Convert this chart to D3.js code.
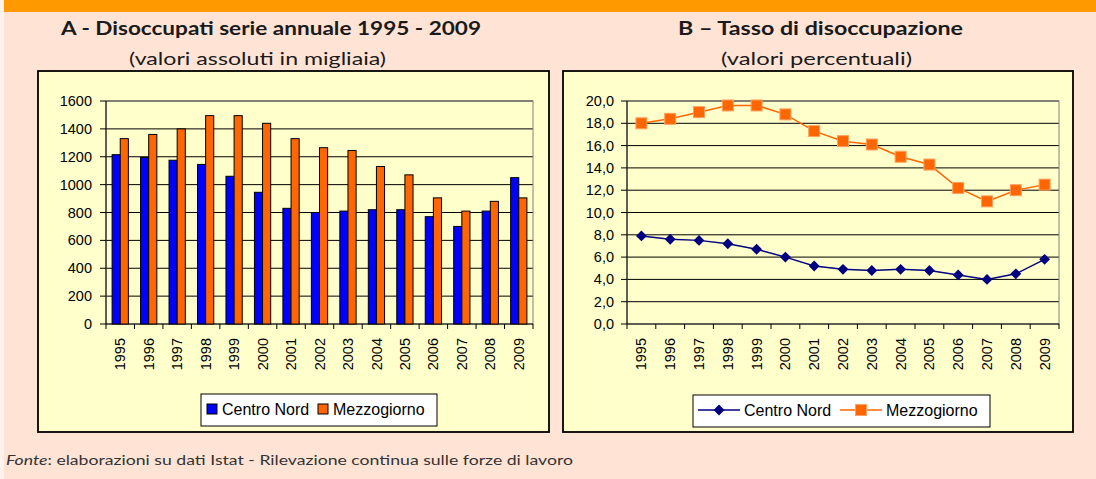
<!DOCTYPE html>
<html>
<head>
<meta charset="utf-8">
<script src="https://cdn.jsdelivr.net/npm/d3@7"></script>
<style>
  body { margin: 0; background: #FFE4D5; }
  svg { display: block; }
</style>
</head>
<body>
<svg id="chart" width="1096" height="479"></svg>
<script>
// data
var years = ["1995","1996","1997","1998","1999","2000","2001","2002","2003","2004","2005","2006","2007","2008","2009"];
var series = ["Centro Nord", "Mezzogiorno"];
// A - disoccupati, migliaia
var absCentroNord = [1215, 1195, 1175, 1145, 1060, 945, 830, 800, 810, 820, 820, 770, 700, 810, 1050];
var absMezzogiorno = [1330, 1360, 1400, 1495, 1495, 1440, 1330, 1265, 1245, 1130, 1070, 905, 810, 880, 905];
// B - tasso di disoccupazione, %
var rateCentroNord = [7.9, 7.6, 7.5, 7.2, 6.7, 6.0, 5.2, 4.9, 4.8, 4.9, 4.8, 4.4, 4.0, 4.5, 5.8];
var rateMezzogiorno = [18.0, 18.4, 19.0, 19.6, 19.6, 18.8, 17.3, 16.4, 16.1, 15.0, 14.3, 12.2, 11.0, 12.0, 12.5];
var absTicks = [0, 200, 400, 600, 800, 1000, 1200, 1400, 1600];
var rateTicks = [0, 2, 4, 6, 8, 10, 12, 14, 16, 18, 20];

var svg = d3.select("#chart");
var axisFont = "'Liberation Sans', Arial, sans-serif";
var titleFont = "Lato, 'Open Sans', sans-serif";

// orange band on top
svg.append("rect").attr("x", 0).attr("y", 0).attr("width", 4).attr("height", 479).attr("fill", "#FFF3EC");
svg.append("rect").attr("x", 4).attr("y", 0).attr("width", 1092).attr("height", 12).attr("fill", "#FF9900");

// titles
function title(txt, x, y, w, bold) {
    svg.append("text")
        .attr("x", x).attr("y", y)
        .attr("textLength", w).attr("lengthAdjust", "spacingAndGlyphs")
        .style("font-family", titleFont)
        .style("font-size", "18px")
        .style("font-weight", bold ? "bold" : "normal")
        .style("fill", "#1a1a1a")
        .text(txt);
}
title("A - Disoccupati  serie annuale 1995 - 2009", 61, 35, 420, true);
title("(valori assoluti in migliaia)", 129, 65, 257, false);
title("B \u2013 Tasso di disoccupazione", 678, 35, 285, true);
title("(valori percentuali)", 721, 65, 191, false);

// chart boxes
svg.append("rect").attr("x", 38).attr("y", 71).attr("width", 511).attr("height", 361)
    .attr("fill", "#FFFFCC").attr("stroke", "#000").attr("stroke-width", 1.8);
svg.append("rect").attr("x", 563).attr("y", 71).attr("width", 510).attr("height", 361)
    .attr("fill", "#FFFFCC").attr("stroke", "#000").attr("stroke-width", 1.8);

// footnote
var foot = svg.append("text")
    .attr("x", 6).attr("y", 465)
    .attr("textLength", 567).attr("lengthAdjust", "spacingAndGlyphs")
    .style("font-family", titleFont).style("font-size", "13.5px").style("fill", "#333");
foot.append("tspan").style("font-style", "italic").text("Fonte");
foot.append("tspan").text(": elaborazioni su dati Istat - Rilevazione continua sulle forze di lavoro");

// common axis drawing
function drawFrame(g, x, y, ticks, fmt, left, right, top, bottom, labGap) {
    // gridlines
    g.selectAll(".grid").data(ticks.filter(function(t) { return t > 0; }))
        .enter().append("line")
        .attr("x1", left).attr("x2", right)
        .attr("y1", function(d) { return y(d); }).attr("y2", function(d) { return y(d); })
        .attr("stroke", "#000").attr("stroke-width", 1);
    // plot border
    g.append("rect").attr("x", left).attr("y", top).attr("width", right - left).attr("height", bottom - top)
        .attr("fill", "none").attr("stroke", "#808080").attr("stroke-width", 1);
    // y axis
    g.append("line").attr("x1", left).attr("x2", left).attr("y1", top).attr("y2", bottom).attr("stroke", "#000");
    g.selectAll(".ytick").data(ticks).enter().append("line")
        .attr("x1", left - 6).attr("x2", left)
        .attr("y1", function(d) { return y(d); }).attr("y2", function(d) { return y(d); })
        .attr("stroke", "#000");
    g.selectAll(".ylab").data(ticks).enter().append("text")
        .attr("x", left - labGap).attr("y", function(d) { return y(d); })
        .attr("dy", "0.35em").attr("text-anchor", "end")
        .style("font-family", axisFont).style("font-size", "14.5px").style("fill", "#000")
        .text(fmt);
    // x axis
    g.append("line").attr("x1", left).attr("x2", right).attr("y1", bottom).attr("y2", bottom).attr("stroke", "#000");
    var bounds = years.map(function(d) { return x(d); }).concat([right]);
    g.selectAll(".xtick").data(bounds).enter().append("line")
        .attr("x1", function(d) { return d; }).attr("x2", function(d) { return d; })
        .attr("y1", bottom).attr("y2", bottom + 5)
        .attr("stroke", "#000");
    g.selectAll(".xlab").data(years).enter().append("text")
        .attr("transform", function(d) { return "translate(" + (x(d) + x.bandwidth() / 2) + "," + (bottom + 14) + ") rotate(-90)"; })
        .attr("dy", "0.35em").attr("text-anchor", "end")
        .style("font-family", axisFont).style("font-size", "14.5px").style("fill", "#000")
        .text(function(d) { return d; });
}

/******** CHART A - bars ********/
var gA = svg.append("g");
var xA = d3.scaleBand().domain(years).range([106, 533]);
var yA = d3.scaleLinear().domain([0, 1600]).range([324, 101]);
drawFrame(gA, xA, yA, absTicks, function(d) { return d; }, 106, 533, 101, 324, 14);

var bw = xA.bandwidth() / 3.5;
var absData = [absCentroNord, absMezzogiorno];
var barColors = ["#0000FF", "#FF6600"];
absData.forEach(function(vals, s) {
    gA.selectAll(".bar" + s).data(vals).enter().append("rect")
        .attr("x", function(d, i) { return xA(years[i]) + bw * (0.75 + s); })
        .attr("y", function(d) { return yA(d); })
        .attr("width", bw)
        .attr("height", function(d) { return yA(0) - yA(d); })
        .attr("fill", barColors[s])
        .attr("stroke", "#000").attr("stroke-width", 1);
});

// legend A
gA.append("rect").attr("x", 201).attr("y", 394).attr("width", 236).attr("height", 32)
    .attr("fill", "#fff").attr("stroke", "#000");
var legA = [{x: 207, tx: 222}, {x: 318, tx: 333}];
series.forEach(function(name, s) {
    gA.append("rect").attr("x", legA[s].x).attr("y", 404).attr("width", 10).attr("height", 10)
        .attr("fill", barColors[s]).attr("stroke", "#000");
    gA.append("text").attr("x", legA[s].tx).attr("y", 415)
        .style("font-family", axisFont).style("font-size", "16px").text(name);
});

/******** CHART B - lines ********/
var gB = svg.append("g");
var xB = d3.scaleBand().domain(years).range([627, 1059]);
var yB = d3.scaleLinear().domain([0, 20]).range([324, 101]);
drawFrame(gB, xB, yB, rateTicks, function(d) { return d3.format(".1f")(d).replace(".", ","); }, 627, 1059, 101, 324, 13);

var line = d3.line()
    .x(function(d, i) { return xB(years[i]) + xB.bandwidth() / 2; })
    .y(function(d) { return yB(d); });

gB.append("path").datum(rateMezzogiorno).attr("d", line)
    .attr("fill", "none").attr("stroke", "#FF6600").attr("stroke-width", 1.5);
gB.append("path").datum(rateCentroNord).attr("d", line)
    .attr("fill", "none").attr("stroke", "#000080").attr("stroke-width", 1.5);

var diamond = d3.symbol().type(d3.symbolDiamond2).size(75);
gB.selectAll(".diam").data(rateCentroNord).enter().append("path")
    .attr("d", diamond)
    .attr("transform", function(d, i) { return "translate(" + (xB(years[i]) + xB.bandwidth() / 2) + "," + yB(d) + ")"; })
    .attr("fill", "#000080");
gB.selectAll(".sq").data(rateMezzogiorno).enter().append("rect")
    .attr("x", function(d, i) { return xB(years[i]) + xB.bandwidth() / 2 - 5.5; })
    .attr("y", function(d) { return yB(d) - 5.5; })
    .attr("width", 11).attr("height", 11)
    .attr("fill", "#FF6600").attr("stroke", "#FFA060").attr("stroke-width", 1);

// legend B
gB.append("rect").attr("x", 693).attr("y", 395).attr("width", 297).attr("height", 32)
    .attr("fill", "#fff").attr("stroke", "#000");
gB.append("line").attr("x1", 698).attr("x2", 740).attr("y1", 410).attr("y2", 410)
    .attr("stroke", "#000080").attr("stroke-width", 1.5);
gB.append("path").attr("d", diamond).attr("transform", "translate(719,410)").attr("fill", "#000080");
gB.append("text").attr("x", 744).attr("y", 416)
    .style("font-family", axisFont).style("font-size", "16px").text(series[0]);
gB.append("line").attr("x1", 840).attr("x2", 882).attr("y1", 410).attr("y2", 410)
    .attr("stroke", "#FF6600").attr("stroke-width", 1.5);
gB.append("rect").attr("x", 855.5).attr("y", 404.5).attr("width", 11).attr("height", 11)
    .attr("fill", "#FF6600").attr("stroke", "#FFA060");
gB.append("text").attr("x", 886).attr("y", 416)
    .style("font-family", axisFont).style("font-size", "16px").text(series[1]);
</script>
</body>
</html>
